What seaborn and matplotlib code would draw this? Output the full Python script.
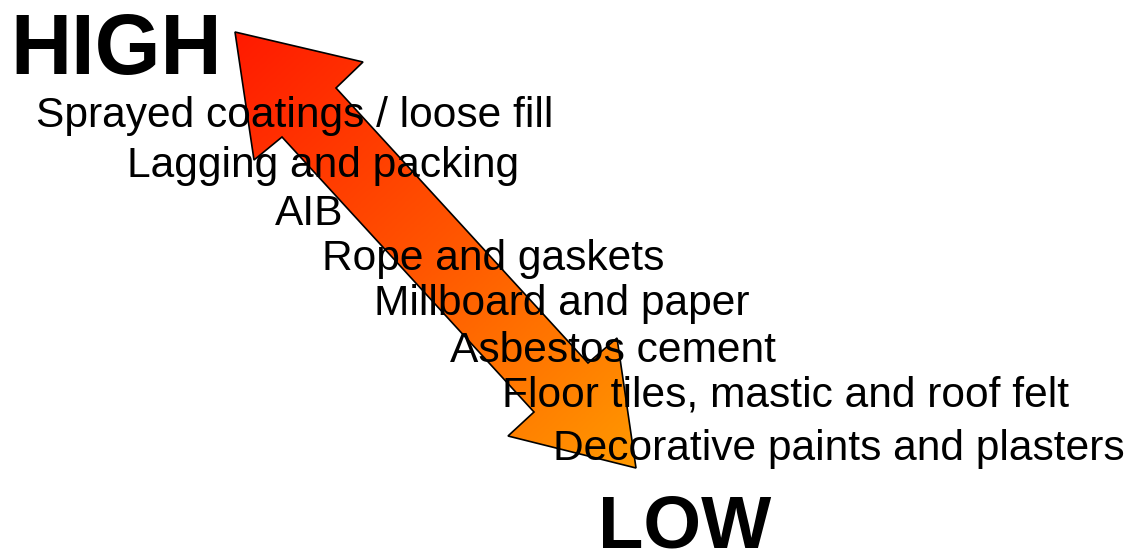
import numpy as np
import matplotlib
matplotlib.use("Agg")
import matplotlib.pyplot as plt
from matplotlib.patches import Polygon
from matplotlib.colors import LinearSegmentedColormap
import seaborn as sns

# asbestos-containing materials, ranked from highest to lowest risk
materials = [
    "Sprayed coatings / loose fill",
    "Lagging and packing",
    "AIB",
    "Rope and gaskets",
    "Millboard and paper",
    "Asbestos cement",
    "Floor tiles, mastic and roof felt",
    "Decorative paints and plasters",
]
risk_rank = [1, 2, 3, 4, 5, 6, 7, 8]
scale_ends = ["HIGH", "LOW"]

# layout (pixel coordinates, y downwards)
label_x = [36, 127, 275, 322, 374, 450, 502, 553]
label_base = [127, 177, 225, 270, 315, 362, 407, 460]
arrow_pts = np.array([
    (235, 32), (363, 62), (336, 88), (588, 363), (617, 338),
    (636, 468), (508, 436), (534, 412), (282, 137), (254, 160),
])

W, H = 1134, 551

sns.set_style("white")
plt.rcParams["font.family"] = ["Liberation Sans", "DejaVu Sans"]

fig = plt.figure(figsize=(W / 100, H / 100), dpi=100)
ax = fig.add_axes([0, 0, 1, 1])
ax.set_xlim(0, W)
ax.set_ylim(H, 0)
ax.axis("off")

# gradient fill along the arrow, clipped to the arrow outline
cmap = LinearSegmentedColormap.from_list("risk", ["#FF1A00", "#FF5500", "#FF9900"])
x0, y0 = arrow_pts.min(axis=0)
x1, y1 = arrow_pts.max(axis=0)
xs = np.linspace(x0, x1, 300)
ys = np.linspace(y0, y1, 300)
gx, gy = np.meshgrid(xs, ys)
start, end = np.array([235, 32]), np.array([636, 468])
d = end - start
t = ((gx - start[0]) * d[0] + (gy - start[1]) * d[1]) / (d @ d)
t = np.clip(t, 0, 1)
img = ax.imshow(t, cmap=cmap, extent=(x0, x1, y1, y0), origin="upper",
                aspect="auto", zorder=1, interpolation="bilinear")
poly = Polygon(arrow_pts, closed=True, facecolor="none",
               edgecolor="black", linewidth=1.2, zorder=2)
ax.add_patch(poly)
img.set_clip_path(poly)

for name, x, yb in zip(materials, label_x, label_base):
    ax.text(x, yb, name, fontsize=30.6, va="baseline", ha="left",
            color="black", zorder=3)

ax.text(10, 74, scale_ends[0], fontsize=61, fontweight="bold",
        va="baseline", ha="left", color="black", zorder=3)
ax.text(598, 547, scale_ends[1], fontsize=53.5, fontweight="bold",
        va="baseline", ha="left", color="black", zorder=3)

fig.savefig("out.png", dpi=100)
